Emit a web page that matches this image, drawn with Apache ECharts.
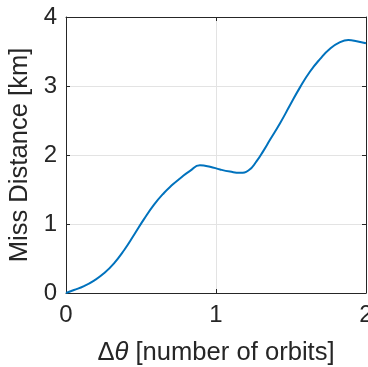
<!DOCTYPE html>
<html>
<head>
<meta charset="utf-8">
<script src="https://cdn.jsdelivr.net/npm/echarts@6/dist/echarts.min.js"></script>
<style>
  html, body {margin: 0; padding: 0; background: #fff;}
  #main {width: 368px; height: 367px;}
</style>
</head>
<body>
<div id="main"></div>
<script>
const orbits = [0, 0.053, 0.12, 0.187, 0.253, 0.32, 0.387, 0.453, 0.52, 0.587, 0.653, 0.705,
  0.76, 0.827, 0.893, 0.96, 1.027, 1.093, 1.16, 1.216, 1.271, 1.316, 1.36, 1.427, 1.493,
  1.56, 1.627, 1.693, 1.76, 1.827, 1.882, 1.938, 2.0];
const missKm = [0, 0.043, 0.10, 0.18, 0.285, 0.43, 0.62, 0.84, 1.07, 1.28, 1.45, 1.56,
  1.66, 1.77, 1.85, 1.83, 1.79, 1.76, 1.742, 1.775, 1.91, 2.06, 2.22, 2.46, 2.72,
  2.98, 3.21, 3.39, 3.54, 3.635, 3.665, 3.65, 3.62];
const xTicks = ['0', '1', '2'];
const yTicks = ['0', '1', '2', '3', '4'];

const axisColor = '#262626';
const font = 'Liberation Sans';

const chart = echarts.init(document.getElementById('main'));

const baseAxis = {
  type: 'value',
  interval: 1,
  axisLine: {show: true, onZero: false, lineStyle: {color: axisColor, width: 1}},
  axisTick: {show: true, inside: true, length: 4, lineStyle: {color: axisColor}},
  splitLine: {show: false},
  axisLabel: {show: false}
};

chart.setOption({
  animation: false,
  grid: {left: 66, right: 2, top: 17, bottom: 74, outerBoundsMode: 'none', containLabel: false},
  xAxis: [
    Object.assign({}, baseAxis, {
      min: 0, max: 2,
      splitLine: {show: true, lineStyle: {color: '#e3e3e3', width: 1}},
      axisLabel: {
        show: true, color: axisColor, fontFamily: font, fontSize: 24, margin: 10,
        formatter: v => xTicks[v]
      },
      name: '{d|Δ}{t|θ}{d| [number of orbits]}',
      nameLocation: 'middle',
      nameGap: 47,
      nameTextStyle: {
        rich: {
          d: {fontFamily: font, fontSize: 25.6, color: axisColor},
          t: {fontFamily: font, fontSize: 25.6, fontStyle: 'italic', color: axisColor}
        }
      }
    }),
    Object.assign({}, baseAxis, {position: 'top', min: 0, max: 2})
  ],
  yAxis: [
    Object.assign({}, baseAxis, {
      min: 0, max: 4,
      splitLine: {show: true, lineStyle: {color: '#e3e3e3', width: 1}},
      axisLabel: {
        show: true, color: axisColor, fontFamily: font, fontSize: 24, margin: 9,
        formatter: v => yTicks[v]
      },
      name: 'Miss Distance [km]',
      nameLocation: 'middle',
      nameGap: 27,
      nameTextStyle: {fontFamily: font, fontSize: 25.6, color: axisColor}
    }),
    Object.assign({}, baseAxis, {position: 'right', min: 0, max: 4})
  ],
  series: [{
    type: 'line',
    data: orbits.map((x, i) => [x, missKm[i]]),
    smooth: 0.5,
    showSymbol: false,
    lineStyle: {color: '#0072BD', width: 2}
  }]
});
</script>
</body>
</html>
